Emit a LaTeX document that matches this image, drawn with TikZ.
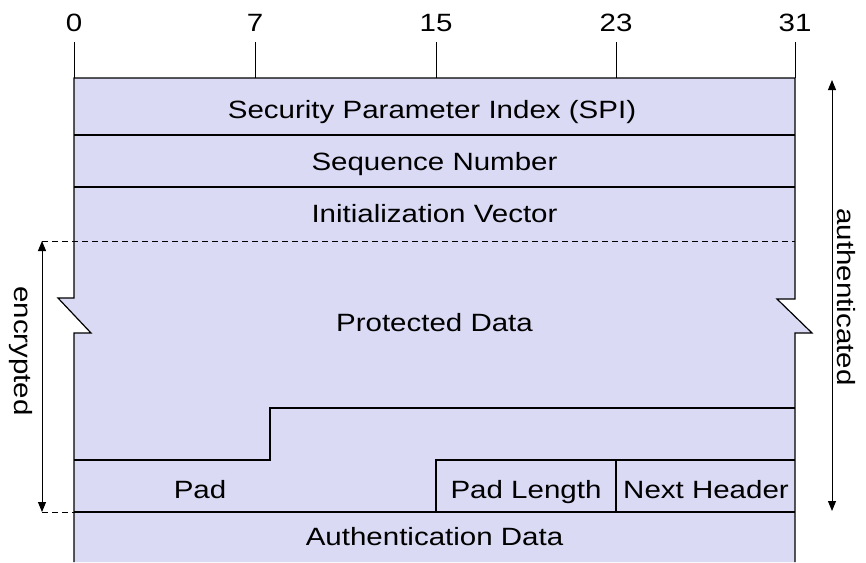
\documentclass[tikz,border=0pt]{standalone}
\usepackage{fontspec}
\setmainfont{Liberation Sans}[FakeStretch=1.18]
\usetikzlibrary{arrows.meta}
\definecolor{espfill}{RGB}{218,218,245}
\tikzset{
	field/.style={font=\fontsize{12.5}{15}\selectfont, inner sep=0pt, anchor=base},
	bitnum/.style={font=\fontsize{12.5}{15}\selectfont, inner sep=0pt, anchor=base},
	rangelabel/.style={font=\fontsize{12.5}{15}\selectfont, inner sep=0pt, rotate=-90},
	rangearrow/.style={line width=0.5pt, {Triangle[length=5pt,width=4pt]}-{Triangle[length=5pt,width=4pt]}},
	guide/.style={line width=0.5pt, dash pattern=on 3pt off 2pt}
}

\begin{document}
\begin{tikzpicture}[x=0.5pt, y=-0.5pt, line width=0.6pt]
			%%%%% START %%%%%
			\useasboundingbox (0, 0) rectangle (866, 562);
			
			% packet body with the two break marks
			\fill[espfill] (74, 78) -- (795, 78) -- (795, 299) -- (777, 299) -- (812, 333) -- (795, 333)
				-- (795, 562) -- (74, 562) -- (74, 333) -- (91, 333) -- (58, 298) -- (74, 298) -- cycle;
			\draw (74, 562) -- (74, 333) -- (91, 333) -- (58, 298) -- (74, 298) -- (74, 78)
				-- (795, 78) -- (795, 299) -- (777, 299) -- (812, 333) -- (795, 333) -- (795, 562);
			
			% bit positions
			\foreach \bx/\bn in {74/0, 255/7, 436/15, 616/23, 795/31} {
				\draw[line width=0.5pt] (\bx, 42) -- (\bx, 78);
				\node[bitnum] (bit\bn) at (\bx, 32) {\bn};
			}
			
			% rows
			\draw (74, 135) -- (795, 135);
			\draw (74, 187) -- (795, 187);
			\draw (74, 460) -- (270, 460) -- (270, 408) -- (795, 408);
			\draw (436, 512) -- (436, 460) -- (795, 460);
			\draw (616, 460) -- (616, 512);
			\draw (74, 512) -- (795, 512);
			
			\node[field] (spi) at (432, 118) {Security Parameter Index (SPI)};
			\node[field] (seq) at (434.5, 170) {Sequence Number};
			\node[field] (iv) at (434.5, 222) {Initialization Vector};
			\node[field] (data) at (434.5, 331) {Protected Data};
			\node[field] (pad) at (200, 498) {Pad};
			\node[field] (padlen) at (526, 498) {Pad Length};
			\node[field] (nexthdr) at (706, 498) {Next Header};
			\node[field] (auth) at (434.5, 545) {Authentication Data};
			
			% encrypted range
			\coordinate (enctop) at (42, 241);
			\coordinate (encbot) at (42, 512);
			\draw[guide] (enctop) -- (795, 241);
			\draw[guide] (encbot) -- (74, 512);
			\draw[rangearrow] (enctop) -- (encbot);
			\node[rangelabel] (enc) at (21, 351) {encrypted};
			
			% authenticated range
			\coordinate (authtop) at (832, 80);
			\coordinate (authbot) at (832, 511);
			\draw[rangearrow] (authtop) -- (authbot);
			\node[rangelabel] (authlabel) at (846, 297) {authenticated};
			
			%%%%% END %%%%%
		\end{tikzpicture}
\end{document}
